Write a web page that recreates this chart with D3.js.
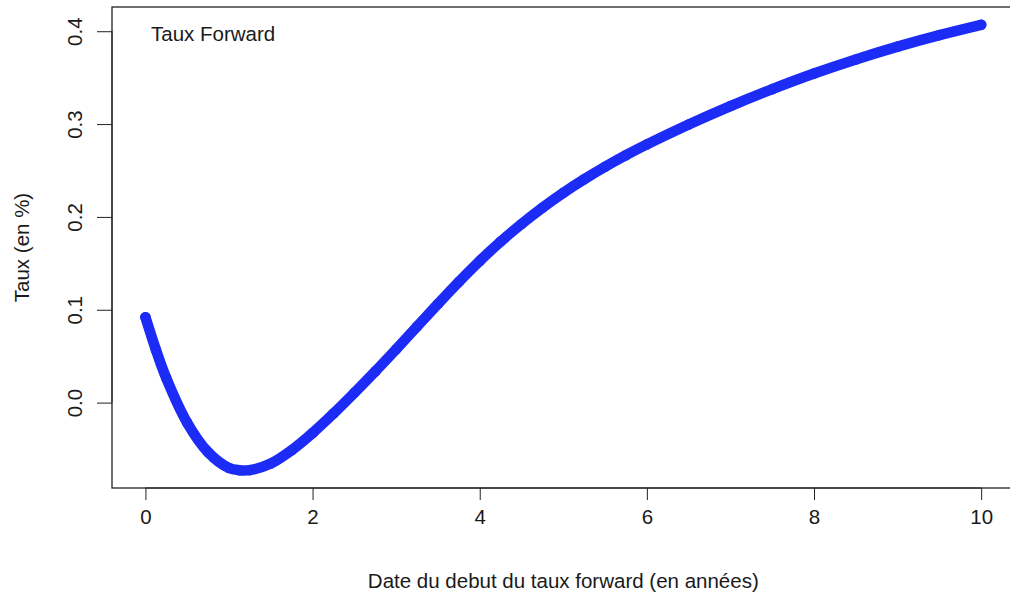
<!DOCTYPE html>
<html>
<head>
<meta charset="utf-8">
<script src="https://cdn.jsdelivr.net/npm/d3@7"></script>
<style>
  html, body { margin: 0; padding: 0; background: #ffffff; }
  svg { display: block; }
  text { font-family: "Liberation Sans", Arial, Helvetica, sans-serif; fill: #1a1a1a; }
</style>
</head>
<body>
<svg id="chart" width="1010" height="596"></svg>
<script>
// Maturity (years) at which each forward rate starts
const maturities = [0, 0.125, 0.25, 0.5, 0.75, 1.0, 1.125, 1.25, 1.5, 1.75, 2.0, 2.25, 2.5, 2.75,
  3.0, 3.25, 3.5, 3.75, 4.0, 4.25, 4.5, 4.75, 5.0, 5.25, 5.5, 5.75,
  6.0, 6.5, 7.0, 7.5, 8.0, 8.5, 9.0, 9.5, 10.0];
// Forward rate (in %)
const forwardRates = [0.092, 0.057, 0.0262, -0.0218, -0.0535, -0.0705, -0.0728, -0.0727, -0.0656,
  -0.0512, -0.0327, -0.0118, 0.0105, 0.0336, 0.0575, 0.0819, 0.1063, 0.1301, 0.1526, 0.1734,
  0.1924, 0.2099, 0.2259, 0.2405, 0.2540, 0.2665, 0.2781, 0.2996, 0.3194, 0.3376, 0.3544,
  0.3696, 0.3834, 0.3958, 0.4069];

const xTicks = [0, 2, 4, 6, 8, 10];
const yTicks = [0.0, 0.1, 0.2, 0.3, 0.4];
const yTickLabels = ["0.0", "0.1", "0.2", "0.3", "0.4"];

const points = maturities.map((t, i) => ({ t, r: forwardRates[i] }));

const svg = d3.select("#chart");
const plotLeft = 112, plotTop = 7, plotBottom = 488, plotRight = 1014.6;

// Axis ranges padded by 4% on each side
const xExt = d3.extent(maturities), yExt = d3.extent(forwardRates);
const xPad = (xExt[1] - xExt[0]) * 0.04, yPad = (yExt[1] - yExt[0]) * 0.04;
const x = d3.scaleLinear().domain([xExt[0] - xPad, xExt[1] + xPad]).range([plotLeft, plotRight]);
const y = d3.scaleLinear().domain([yExt[0] - yPad, yExt[1] + yPad]).range([plotBottom, plotTop]);

const blue = "#1c2cf6";

// Curve of forward rates (dense open circles form a thick band)
const line = d3.line().x(d => x(d.t)).y(d => y(d.r)).curve(d3.curveCatmullRom.alpha(0.5));
svg.append("path")
  .datum(points)
  .attr("d", line)
  .attr("fill", "none")
  .attr("stroke", blue)
  .attr("stroke-width", 10.5)
  .attr("stroke-linecap", "round")
  .attr("stroke-linejoin", "round");

svg.append("g").selectAll("circle")
  .data(points)
  .join("circle")
  .attr("cx", d => x(d.t))
  .attr("cy", d => y(d.r))
  .attr("r", 4.6)
  .attr("fill", "none")
  .attr("stroke", blue)
  .attr("stroke-width", 1.4);

// Plot frame
svg.append("rect")
  .attr("x", plotLeft).attr("y", plotTop)
  .attr("width", plotRight - plotLeft).attr("height", plotBottom - plotTop)
  .attr("fill", "none")
  .attr("stroke", "#222")
  .attr("stroke-width", 1.3);

// X axis
const xAxis = d3.axisBottom(x).tickValues(xTicks).tickSize(12).tickPadding(9).tickFormat(d3.format("d"));
const gx = svg.append("g").attr("transform", `translate(0,${plotBottom})`).call(xAxis);
gx.select(".domain").attr("d", `M${x(0)},0H${x(10)}`).attr("stroke", "#222");
gx.selectAll(".tick line").attr("stroke", "#222");
gx.selectAll(".tick text")
  .attr("font-size", 20.5)
  .attr("font-family", "'Liberation Sans', Arial, sans-serif")
  .attr("fill", "#1a1a1a");

// Y axis
const yAxis = d3.axisLeft(y).tickValues(yTicks).tickSize(15)
  .tickFormat((d, i) => yTickLabels[i]);
const gy = svg.append("g").attr("transform", `translate(${plotLeft},0)`).call(yAxis);
gy.select(".domain").attr("d", `M0,${y(0)}V${y(0.4)}`).attr("stroke", "#222");
gy.selectAll(".tick line").attr("stroke", "#222");
gy.selectAll(".tick text")
  .attr("x", null).attr("dy", null)
  .attr("text-anchor", "middle")
  .attr("transform", "translate(-30.5,0) rotate(-90)")
  .attr("font-size", 20.5)
  .attr("font-family", "'Liberation Sans', Arial, sans-serif")
  .attr("fill", "#1a1a1a");

// Axis titles
svg.append("text")
  .attr("x", (plotLeft + plotRight) / 2).attr("y", 588)
  .attr("text-anchor", "middle")
  .attr("font-size", 20.5)
  .text("Date du debut du taux forward (en années)");

svg.append("text")
  .attr("transform", `translate(28.5,${(plotTop + plotBottom) / 2}) rotate(-90)`)
  .attr("text-anchor", "middle")
  .attr("font-size", 20.5)
  .text("Taux (en %)");

// Legend label
svg.append("text")
  .attr("x", 151).attr("y", 41)
  .attr("font-size", 20.5)
  .text("Taux Forward");
</script>
</body>
</html>
